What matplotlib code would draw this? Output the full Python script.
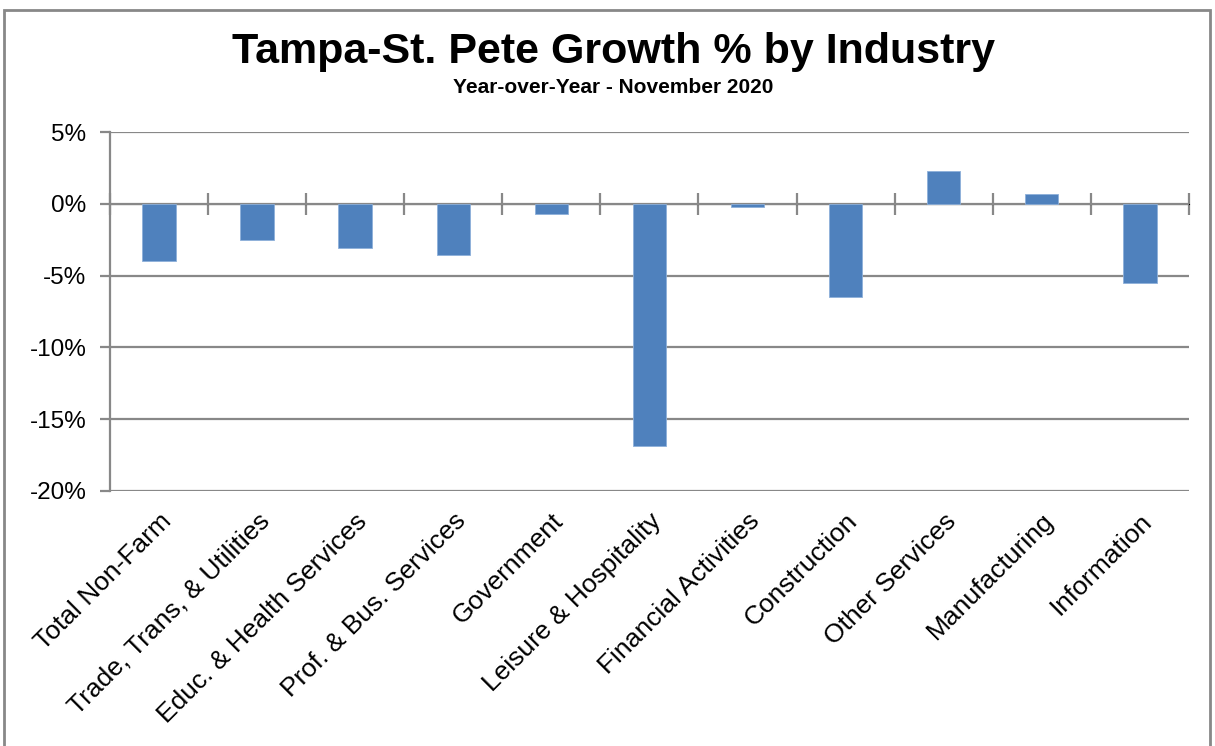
import matplotlib.pyplot as plt
from matplotlib.patches import Rectangle
from matplotlib.ticker import FuncFormatter

# Year-over-year growth by industry, November 2020 (percent)
industries = ['Total Non-Farm', 'Trade, Trans, & Utilities', 'Educ. & Health Services',
              'Prof. & Bus. Services', 'Government', 'Leisure & Hospitality',
              'Financial Activities', 'Construction', 'Other Services',
              'Manufacturing', 'Information']
growth = [-4.0, -2.5, -3.1, -3.6, -0.7, -16.9, -0.2, -6.5, 2.3, 0.7, -5.5]
y_ticks = [5, 0, -5, -10, -15, -20]

plt.rcParams['font.family'] = ['Liberation Sans', 'DejaVu Sans']
grey = '#888888'

fig = plt.figure(figsize=(12.15, 7.46), dpi=100)
ax = fig.add_axes([0.0905, 0.342, 0.888, 0.481])

x = list(range(len(industries)))
ax.bar(x, growth, width=0.34, color='#4F81BD', edgecolor='#8DB0DA', linewidth=0.6, zorder=3)

ax.set_xlim(-0.5, len(industries) - 0.5)
ax.set_ylim(-20, 5)
ax.set_yticks(y_ticks)
ax.yaxis.set_major_formatter(FuncFormatter(lambda v, p: f'{v:.0f}%'))
ax.grid(axis='y', color=grey, linewidth=1.6, zorder=0)

for s in ['top', 'right', 'bottom']:
    ax.spines[s].set_visible(False)
ax.spines['left'].set_color(grey)
ax.spines['left'].set_linewidth(1.6)
ax.tick_params(axis='y', colors=grey, labelcolor='black', labelsize=17.5,
               length=7, width=1.6, direction='out', pad=10)

ax.set_xticks(x)
ax.set_xticklabels(industries, rotation=45, ha='right', rotation_mode='anchor', fontsize=19)
ax.tick_params(axis='x', length=0, pad=13)

# category axis crossing at zero with boundary tick marks
sec = ax.secondary_xaxis(0.8)
sec.set_xticks([i - 0.5 for i in range(len(industries) + 1)])
sec.set_xticklabels([])
sec.spines['bottom'].set_color(grey)
sec.spines['bottom'].set_linewidth(1.6)
sec.tick_params(axis='x', direction='inout', length=16, width=1.6, colors=grey)

fig.text(0.505, 0.93, 'Tampa-St. Pete Growth % by Industry', ha='center', va='center',
         fontsize=31, fontweight='bold')
fig.text(0.505, 0.883, 'Year-over-Year - November 2020', ha='center', va='center',
         fontsize=15, fontweight='bold')

fig.patches.append(Rectangle((0.003, -0.2), 0.993, 1.187, transform=fig.transFigure,
                             fill=False, edgecolor=grey, linewidth=2))

fig.savefig('out.png', dpi=100)
